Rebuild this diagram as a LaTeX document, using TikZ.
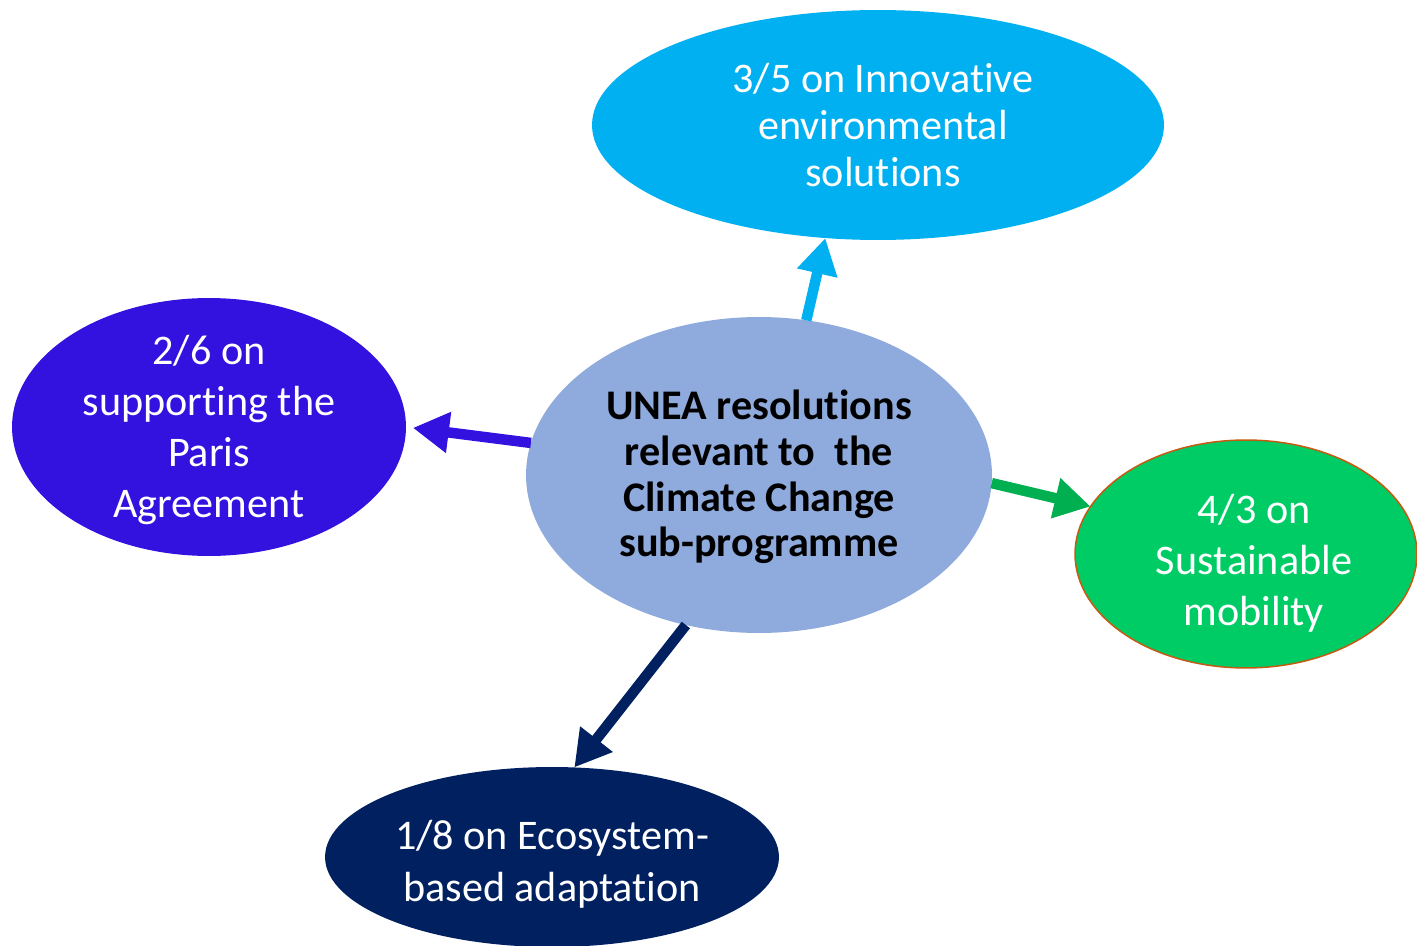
\documentclass[tikz,border=0pt]{standalone}
\usepackage{fontspec}
\setmainfont{Carlito}[RawFeature={-liga;-calt;-clig}]
\usetikzlibrary{shapes.geometric, arrows.meta}

\definecolor{innovblue}{HTML}{00B0F0}
\definecolor{parisblue}{RGB}{51,18,224}
\definecolor{centreblue}{HTML}{8FAADC}
\definecolor{mobilgreen}{HTML}{00CC66}
\definecolor{mobilborder}{HTML}{C55A11}
\definecolor{arrowgreen}{HTML}{00B050}
\definecolor{econavy}{HTML}{002060}

\begin{document}
\begin{tikzpicture}[
x=0.02cm, y=-0.02cm,
mybubble/.style={ellipse,
  inner sep=0pt,
  outer sep=0pt,
},
mytext/.style 2 args={
  text=#1,
  align=center,
  font=\fontsize{24}{#2}\selectfont
},
myarrow/.style={
  line width=0.21cm,
  -{Triangle[length=0.72cm, width=0.78cm]}
},
]
\useasboundingbox (0,0) rectangle (1417,946);

\node[mybubble, fill=centreblue, minimum width=9.32cm, minimum height=6.32cm,
  label={[mytext={black}{26}, font=\fontsize{24}{26}\selectfont\bfseries, yshift=-0.04cm]center:{UNEA resolutions\\relevant to\ \ the\\Climate Change\\sub-programme}}] (centre) at (759,475)
    {};
\node[mybubble, fill=innovblue, minimum width=11.44cm, minimum height=4.6cm,
  label={[mytext={white}{26.6}, xshift=0.1cm]center:{3/5 on Innovative\\environmental\\solutions}}] (innov) at (878,125)
    {};
\node[mybubble, fill=parisblue, minimum width=7.88cm, minimum height=5.16cm,
  label={[mytext={white}{28.9}, yshift=-0.06cm]center:{2/6 on\\supporting the\\Paris\\Agreement}}] (paris) at (209,427)
    {};
\node[mybubble, fill=mobilgreen, draw=mobilborder, line width=0.85pt, minimum width=6.84cm, minimum height=4.56cm,
  label={[mytext={white}{28.9}, xshift=0.16cm, yshift=-0.18cm]center:{4/3 on\\Sustainable\\mobility}}] (mobil) at (1246,554)
    {};
\node[mybubble, fill=econavy, minimum width=9.08cm, minimum height=3.6cm,
  label={[mytext={white}{29.5}, yshift=-0.14cm]center:{1/8 on Ecosystem-\\based adaptation}}] (eco) at (552,857)
    {};

\draw[myarrow, innovblue] (centre.73) -- (innov.245);
\draw[myarrow, parisblue, shorten >=0.14cm] (centre.172) -- (paris.0);
\draw[myarrow, arrowgreen] (centre.358) -- (mobil.163);
\draw[myarrow, econavy] (centre.244) -- (eco.76);
\end{tikzpicture}
\end{document}
